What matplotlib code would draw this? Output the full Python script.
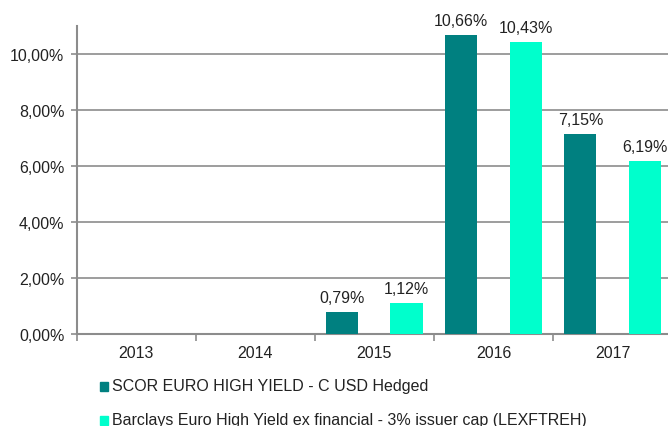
import numpy as np
import matplotlib.pyplot as plt
from matplotlib.patches import Rectangle

plt.rcParams['font.family'] = ['Liberation Sans', 'DejaVu Sans']

years = ['2013', '2014', '2015', '2016', '2017']
scor = [np.nan, np.nan, 0.79, 10.66, 7.15]
barclays = [np.nan, np.nan, 1.12, 10.43, 6.19]
names = ['SCOR EURO HIGH YIELD - C USD Hedged',
         'Barclays Euro High Yield ex financial - 3% issuer cap (LEXFTREH)']
dark = '#008080'
light = '#00FFCC'
txt = '#222222'
fs = 11.5


def pct(v):
    return ('%.2f%%' % v).replace('.', ',')


def main():
    fig = plt.figure(figsize=(6.68, 4.27), dpi=100)
    ax = fig.add_axes([0.115, 0.2155, 0.891, 0.7215])
    x = np.arange(len(years))
    w = 0.27
    ax.bar(x - 0.27, scor, w, color=dark, zorder=3)
    ax.bar(x + 0.27, barclays, w, color=light, zorder=3)
    for xi, v in zip(x, scor):
        if not np.isnan(v):
            ax.text(xi - 0.27, v + 0.25, pct(v), ha='center', va='bottom', fontsize=fs, color=txt)
    for xi, v in zip(x, barclays):
        if not np.isnan(v):
            ax.text(xi + 0.27, v + 0.25, pct(v), ha='center', va='bottom', fontsize=fs, color=txt)

    ax.set_xlim(-0.5, len(years) - 0.5)
    ax.set_ylim(0, 11)
    yt = np.arange(0, 11, 2)
    ax.set_yticks(yt)
    ax.set_yticklabels([pct(v) for v in yt], fontsize=fs, color=txt)
    ax.yaxis.grid(True, color='#8c8c8c', linewidth=1.2, zorder=0)
    ax.set_xticks(x)
    ax.set_xticklabels(years, fontsize=fs, color=txt)
    ax.tick_params(axis='x', length=0, pad=8)
    ax.set_xticks(np.arange(-0.5, len(years)), minor=True)
    ax.tick_params(axis='x', which='minor', length=5, color='#8c8c8c', width=1.2)
    ax.tick_params(axis='y', length=4, color='#8c8c8c', width=1.2, pad=5)
    for s in ['top', 'right']:
        ax.spines[s].set_visible(False)
    for s in ['left', 'bottom']:
        ax.spines[s].set_color('#8c8c8c')
        ax.spines[s].set_linewidth(1.5)

    # legend below the plot
    for i, (n, c) in enumerate([(names[0], dark), (names[1], light)]):
        y = 1 - (387 + 34 * i) / 427
        fig.patches.append(Rectangle((100 / 668, y - 0.011), 8 / 668, 9 / 427,
                                     transform=fig.transFigure, color=c, figure=fig))
        fig.text(112 / 668, y, n, fontsize=fs, va='center', color=txt)

    fig.savefig('out.png', dpi=100)


if __name__ == "__main__":
    main()
